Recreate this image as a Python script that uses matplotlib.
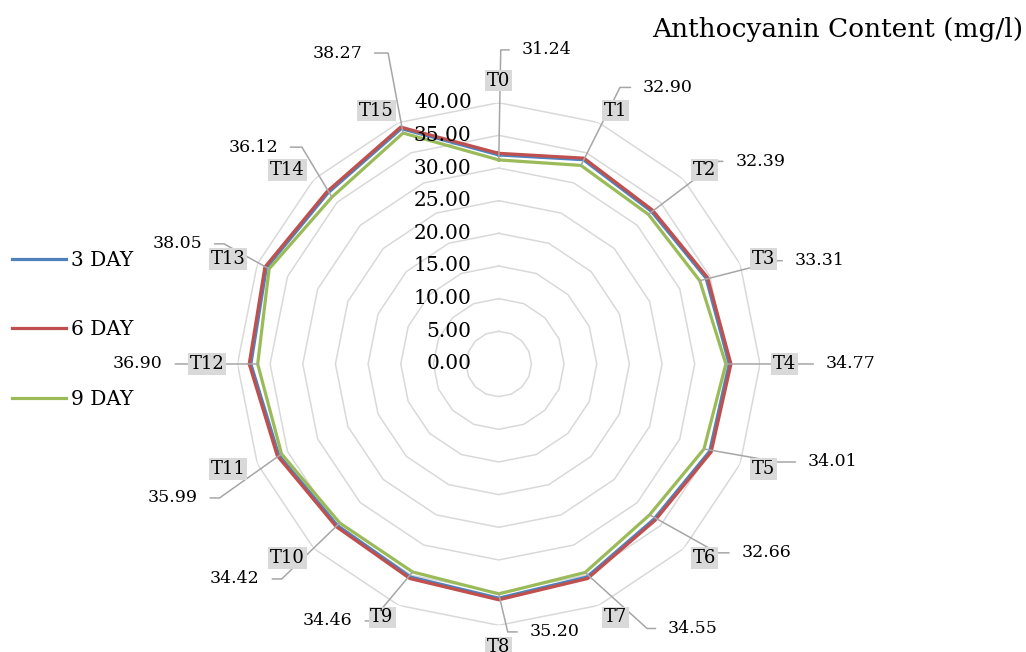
import numpy as np
import matplotlib
matplotlib.use("Agg")
import matplotlib.pyplot as plt

categories = ["T0", "T1", "T2", "T3", "T4", "T5", "T6", "T7",
              "T8", "T9", "T10", "T11", "T12", "T13", "T14", "T15"]
day3 = [32.00, 33.85, 33.05, 34.35, 35.30, 34.95, 33.60, 35.30,
        35.85, 35.30, 34.95, 36.45, 37.95, 38.50, 37.00, 39.00]
day6 = [32.25, 34.10, 33.30, 34.60, 35.55, 35.20, 33.85, 35.55,
        36.10, 35.55, 35.20, 36.70, 38.20, 38.75, 37.25, 39.25]
day9 = [31.24, 32.90, 32.39, 33.31, 34.77, 34.01, 32.66, 34.55,
        35.20, 34.46, 34.42, 35.99, 36.90, 38.05, 36.12, 38.27]
series_names = ["3 DAY", "6 DAY", "9 DAY"]
ring_levels = [0, 5, 10, 15, 20, 25, 30, 35, 40]

colors = ["#4f81bd", "#c0504d", "#9bbb59"]
grid_color = "#d9d9d9"
leader_color = "#a6a6a6"

# data label placement for the 9 DAY series: text offset (x, y) and leader knee x,
# all in pixels from the point; None means a straight leader
label_pos = [(23, 110, 2), (62, 78, 39), (87, 53, 70), (95, 20, 78),
             (100, 0, None), (104, -13, 74), (92, -38, 68), (83, -56, 62),
             (31, -38, 9), (-60, -49, -41), (-80, -56, -58), (-84, -44, -62),
             (-95, 0, None), (-67, 25, -45), (-54, 50, -30), (-41, 80, -15)]

plt.rcParams["font.family"] = "DejaVu Serif"

fig = plt.figure(figsize=(10.26, 6.52), dpi=100)
ax = fig.add_axes([0.2314, 0.041, 0.5094, 0.8015], projection="polar")
ax.set_theta_zero_location("N")
ax.set_theta_direction(-1)
ax.set_ylim(0, 40)
ax.set_xticks([])
ax.set_yticks([])
ax.grid(False)
ax.spines["polar"].set_visible(False)
ax.patch.set_alpha(0)

angles = np.radians(np.arange(len(categories)) * 360 / len(categories))
closed = np.append(angles, angles[0])

# polygon grid
for lv in ring_levels[1:]:
    ax.plot(closed, [lv] * len(closed), color=grid_color, lw=1.1, zorder=1)

for vals, name, c in zip([day3, day6, day9], series_names, colors):
    ax.plot(closed, np.append(vals, vals[0]), color=c, lw=2.3, label=name, zorder=3)

# radial axis labels
for lv in ring_levels:
    ax.annotate(f"{lv:.2f}", xy=(0, lv), xytext=(-27, 0), textcoords="offset pixels",
                ha="right", va="center", fontsize=14.5, annotation_clip=False, zorder=5)

# value labels with leader lines
for th, v, (tx, ty, kx) in zip(angles, day9, label_pos):
    left = tx > 0
    if kx is None:
        conn = "arc3"
    else:
        conn = f"angle,angleA=0,angleB={np.degrees(np.arctan2(ty, kx)):.2f},rad=0"
    ax.annotate(f"{v:.2f}", xy=(th, v), xytext=(tx, ty), textcoords="offset pixels",
                ha="left" if left else "right", va="center", fontsize=12.5,
                annotation_clip=False, zorder=4,
                arrowprops=dict(arrowstyle="-", color=leader_color, lw=1.1,
                                shrinkA=7, shrinkB=0,
                                relpos=(0 if left else 1, 0.5),
                                connectionstyle=conn))

# category labels
for th, name in zip(angles, categories):
    s, c = np.sin(th), np.cos(th)
    if abs(s) < 1e-6:
        ha, va = "center", ("bottom" if c > 0 else "top")
    else:
        ha, va = ("left" if s > 0 else "right"), "center"
    ax.text(th, 42.0, name, ha=ha, va=va, fontsize=13, zorder=6,
            bbox=dict(boxstyle="square,pad=0.1", fc=grid_color, ec="none"))

ax.legend(loc="center left", bbox_to_anchor=(0.0117, 0.494),
          bbox_transform=fig.transFigure, frameon=False, fontsize=14.5,
          handlelength=2.7, handletextpad=0.25, labelspacing=2.5,
          borderaxespad=0, borderpad=0)

fig.text(0.997, 1 - 30 / 652, "Anthocyanin Content (mg/l)", ha="right", va="center",
         fontsize=19)

fig.savefig("out.png", dpi=100)
